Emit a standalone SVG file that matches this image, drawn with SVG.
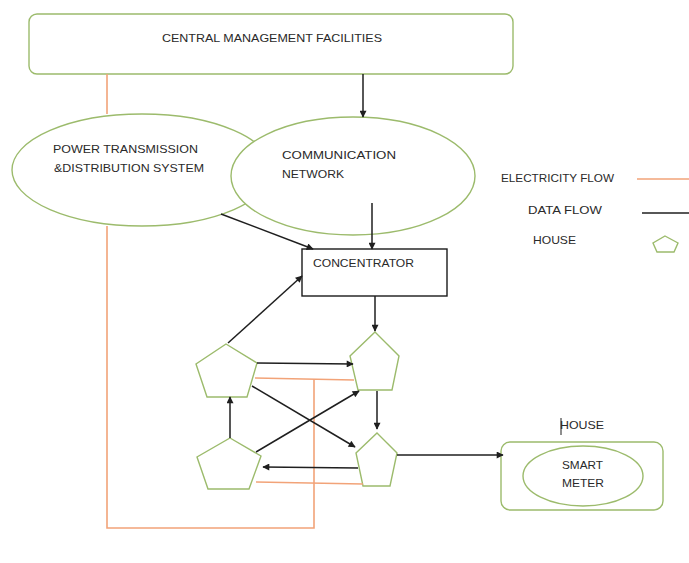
<svg xmlns="http://www.w3.org/2000/svg" width="689" height="563" viewBox="0 0 689 563">
  <style>
    .node { fill: #ffffff; stroke: #9cbb6c; stroke-width: 1.4; }
    .box { fill: #ffffff; stroke: #1a1a1a; stroke-width: 1.4; }
    .lbl { font-family: "Liberation Sans", Arial, sans-serif; font-size: 11.5px; fill: #2a2a2a; }
    .data { fill: none; stroke: #1f1f1f; stroke-width: 1.5; }
    .power { fill: none; stroke: #f2a378; stroke-width: 1.6; }
  </style>
  <defs>
    <marker id="arrow" viewBox="0 0 10 10" refX="9" refY="5" markerWidth="8" markerHeight="7" markerUnits="userSpaceOnUse" orient="auto">
      <path d="M0,0 L10,5 L0,10 Z" fill="#1f1f1f"/>
    </marker>
  </defs>

  <rect width="689" height="563" fill="#ffffff"/>

  <!-- Central management -->
  <g id="central-management">
    <rect class="node" x="29" y="14" width="484" height="60" rx="8"/>
    <text class="lbl" x="162" y="42" textLength="220" lengthAdjust="spacingAndGlyphs">CENTRAL MANAGEMENT FACILITIES</text>
  </g>

  <!-- Power transmission & distribution -->
  <g id="power-system">
    <ellipse class="node" cx="142" cy="170" rx="130" ry="56"/>
    <text class="lbl" x="53" y="153" textLength="145" lengthAdjust="spacingAndGlyphs">POWER TRANSMISSION</text>
    <text class="lbl" x="54" y="172" textLength="150" lengthAdjust="spacingAndGlyphs">&amp;DISTRIBUTION SYSTEM</text>
  </g>

  <!-- Communication network -->
  <g id="communication-network">
    <ellipse class="node" cx="353" cy="176" rx="122" ry="59"/>
    <text class="lbl" x="282" y="159" textLength="114" lengthAdjust="spacingAndGlyphs">COMMUNICATION</text>
    <text class="lbl" x="282" y="178" textLength="62" lengthAdjust="spacingAndGlyphs">NETWORK</text>
  </g>

  <!-- Concentrator -->
  <g id="concentrator">
    <rect class="box" x="302" y="249" width="145" height="47"/>
    <text class="lbl" x="313" y="267" textLength="101" lengthAdjust="spacingAndGlyphs">CONCENTRATOR</text>
  </g>

  <!-- Houses -->
  <g id="house-1">
    <polygon class="node" points="226,344 257,363 247,397 207,397 196,364"/>
  </g>
  <g id="house-2">
    <polygon class="node" points="375,332 399,356 392,390 358,390 350,356"/>
  </g>
  <g id="house-3">
    <polygon class="node" points="230,438 261,456 249,489 208,489 197,457"/>
  </g>
  <g id="house-4">
    <polygon class="node" points="377,433 397,453 390,486 363,486 356,453"/>
  </g>

  <!-- House with smart meter -->
  <g id="smart-meter-house">
    <text class="lbl" x="560" y="429" textLength="44" lengthAdjust="spacingAndGlyphs">HOUSE</text>
    <line x1="561" y1="418" x2="561" y2="435" stroke="#1f1f1f" stroke-width="1"/>
    <rect class="node" x="501" y="442" width="162" height="68" rx="9"/>
    <ellipse class="node" cx="583" cy="476" rx="60" ry="30"/>
    <text class="lbl" x="562" y="469" textLength="41" lengthAdjust="spacingAndGlyphs">SMART</text>
    <text class="lbl" x="562" y="487" textLength="42" lengthAdjust="spacingAndGlyphs">METER</text>
  </g>

  <!-- Legend -->
  <g id="legend">
    <text class="lbl" x="501" y="182" textLength="113" lengthAdjust="spacingAndGlyphs">ELECTRICITY FLOW</text>
    <line class="power" x1="637" y1="179" x2="689" y2="179"/>
    <text class="lbl" x="528" y="214" textLength="74" lengthAdjust="spacingAndGlyphs">DATA FLOW</text>
    <line class="data" x1="642" y1="213" x2="689" y2="213"/>
    <text class="lbl" x="533" y="244" textLength="43" lengthAdjust="spacingAndGlyphs">HOUSE</text>
    <polygon class="node" points="665,236 678,243 674,252 657,252 653,243"/>
  </g>

  <!-- Connectors -->
  <g id="connectors">
    <!-- electricity flow -->
    <line class="power" x1="107" y1="74" x2="107" y2="114"/>
    <polyline class="power" points="107,226 107,528 314,528 314,379"/>
    <line class="power" x1="255" y1="378" x2="354" y2="380"/>
    <line class="power" x1="256" y1="482" x2="363" y2="484"/>

    <!-- data flow -->
    <line class="data" x1="363" y1="74" x2="363" y2="117" marker-end="url(#arrow)"/>
    <line class="data" x1="221" y1="214" x2="313" y2="249" marker-end="url(#arrow)"/>
    <line class="data" x1="372" y1="203" x2="372" y2="249" marker-end="url(#arrow)"/>
    <line class="data" x1="375" y1="296" x2="375" y2="331" marker-end="url(#arrow)"/>
    <line class="data" x1="228" y1="343" x2="302" y2="276" marker-end="url(#arrow)"/>
    <line class="data" x1="257" y1="363" x2="353" y2="364" marker-end="url(#arrow)"/>
    <line class="data" x1="252" y1="386" x2="355" y2="447" marker-end="url(#arrow)"/>
    <line class="data" x1="256" y1="452" x2="359" y2="391" marker-end="url(#arrow)"/>
    <line class="data" x1="230" y1="438" x2="230" y2="397" marker-end="url(#arrow)"/>
    <line class="data" x1="377" y1="391" x2="377" y2="429" marker-end="url(#arrow)"/>
    <line class="data" x1="358" y1="468" x2="263" y2="467" marker-end="url(#arrow)"/>
    <line class="data" x1="397" y1="455" x2="503" y2="455" marker-end="url(#arrow)"/>
  </g>
</svg>
